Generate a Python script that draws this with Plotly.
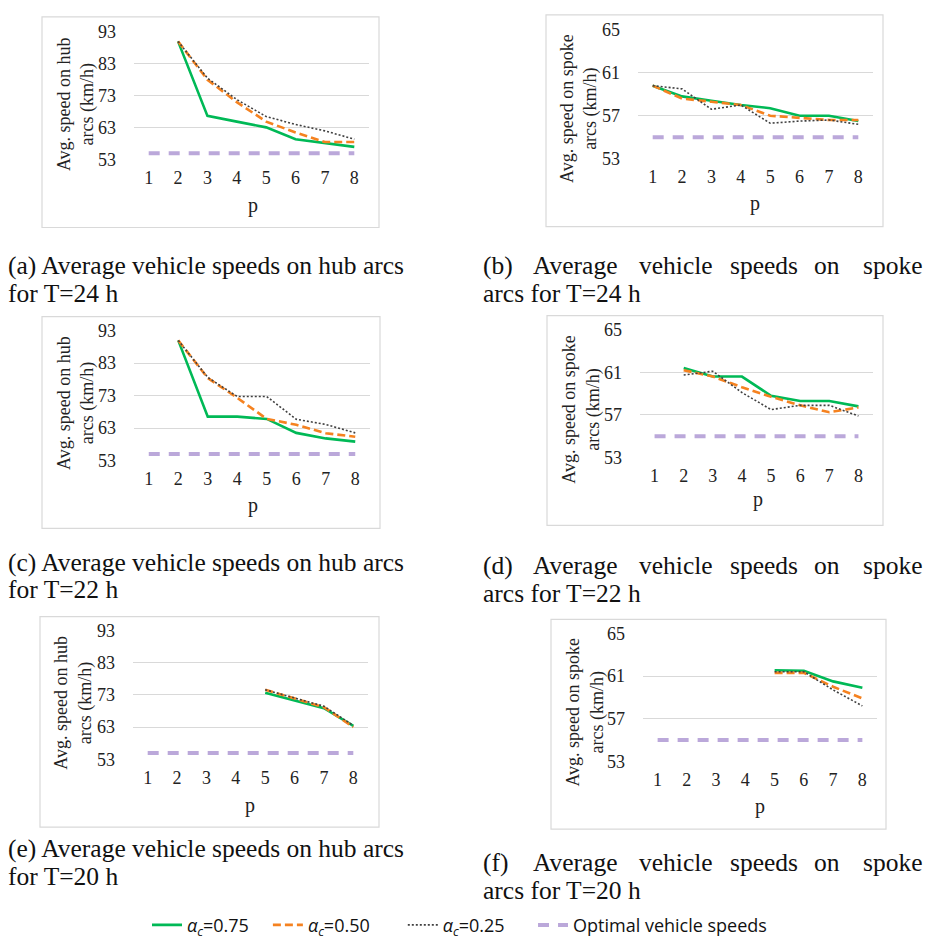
import plotly.graph_objects as go

# ---------------- data ----------------
p = [1, 2, 3, 4, 5, 6, 7, 8]
optimal_speed = [55, 55, 55, 55, 55, 55, 55, 55]

hub_24_a75 = [None, 90, 66.7, 64.9, 63.1, 59.4, 58.1, 57.0]
hub_24_a50 = [None, 90, 78.0, 71.0, 64.9, 61.5, 58.5, 58.5]
hub_24_a25 = [None, 90, 78.5, 71.8, 66.5, 64.0, 62.0, 59.4]

spoke_24_a75 = [59.8, 58.8, 58.4, 58.0, 57.7, 57.0, 57.0, 56.5]
spoke_24_a50 = [59.8, 58.6, 58.3, 58.0, 57.0, 56.8, 56.6, 56.6]
spoke_24_a25 = [59.8, 59.5, 57.6, 58.0, 56.3, 56.5, 56.6, 56.2]

hub_22_a75 = [None, 90, 66.5, 66.5, 65.8, 61.5, 59.8, 58.8]
hub_22_a50 = [None, 90, 78.4, 72.3, 65.8, 64.0, 61.4, 60.3]
hub_22_a25 = [None, 90, 78.6, 72.7, 72.7, 65.7, 64.1, 61.5]

spoke_22_a75 = [None, 61.4, 60.6, 60.6, 58.8, 58.3, 58.3, 57.8]
spoke_22_a50 = [None, 61.2, 60.6, 59.6, 58.7, 57.9, 57.25, 57.7]
spoke_22_a25 = [None, 60.75, 61.1, 59.1, 57.5, 57.9, 57.9, 56.9]

hub_20_a75 = [None, None, None, None, 73.7, 71.3, 68.9, 63.4]
hub_20_a50 = [None, None, None, None, 74.6, 72.0, 69.2, 63.0]
hub_20_a25 = [None, None, None, None, 74.6, 72.1, 69.5, 63.5]

spoke_20_a75 = [None, None, None, None, 61.55, 61.5, 60.5, 59.9]
spoke_20_a50 = [None, None, None, None, 61.3, 61.3, 60.0, 58.9]
spoke_20_a25 = [None, None, None, None, 61.4, 61.4, 59.7, 58.2]

hub_ticks = [53, 63, 73, 83, 93]
spoke_ticks = [53, 57, 61, 65]

series_names = ["<i>α<sub>c</sub></i>=0.75" + "\u00a0" * 3,
                "<i>α<sub>c</sub></i>=0.50" + "\u00a0" * 6,
                "<i>α<sub>c</sub></i>=0.25" + "\u00a0" * 5,
                "Optimal vehicle speeds"]

panel_data = [
    (hub_24_a75, hub_24_a50, hub_24_a25, hub_ticks, "Avg. speed on hub<br>arcs (km/h)"),
    (spoke_24_a75, spoke_24_a50, spoke_24_a25, spoke_ticks, "Avg. speed on spoke<br>arcs (km/h)"),
    (hub_22_a75, hub_22_a50, hub_22_a25, hub_ticks, "Avg. speed on hub<br>arcs (km/h)"),
    (spoke_22_a75, spoke_22_a50, spoke_22_a25, spoke_ticks, "Avg. speed on spoke<br>arcs (km/h)"),
    (hub_20_a75, hub_20_a50, hub_20_a25, hub_ticks, "Avg. speed on hub<br>arcs (km/h)"),
    (spoke_20_a75, spoke_20_a50, spoke_20_a25, spoke_ticks, "Avg. speed on spoke<br>arcs (km/h)"),
]

# ---------------- layout geometry (pixels) ----------------
W, H = 925, 945
def px(x): return x / W
def py(y): return 1 - y / H

geo = [
    dict(plot=(134, 369, 23, 154), box=(42, 379, 8, 223), yt=(76, 97), pl=(253, 201)),
    dict(plot=(638, 873, 21, 153), box=(546, 883, 6, 222), yt=(579, 102), pl=(755, 198)),
    dict(plot=(134, 370, 328, 461), box=(42, 380, 314, 530), yt=(76, 402), pl=(253, 507)),
    dict(plot=(640, 873, 327, 458), box=(547, 883, 313, 527), yt=(581, 409), pl=(758, 501)),
    dict(plot=(133, 368, 634, 766), box=(40, 379, 620, 835), yt=(73, 708), pl=(250, 813)),
    dict(plot=(643, 877, 637, 768), box=(551, 886, 623, 837), yt=(585, 718), pl=(760, 814)),
]

styles = [
    dict(color="#00B956", width=2.6, dash="solid"),
    dict(color="#F58220", width=2.6, dash="8px,4px"),
    dict(color="#404040", width=1.6, dash="2px,2px"),
    dict(color="#BBA8DA", width=4, dash="11px,9px"),
]

SERIF = "Liberation Serif"
TXT = "#222222"
fig = go.Figure()
shapes = []
annotations = []
axes = {}

for i, (d75, d50, d25, ticks, ytitle) in enumerate(panel_data):
    g = geo[i]
    n = "" if i == 0 else str(i + 1)
    xa, ya = "x" + n, "y" + n
    for j, ys in enumerate([d75, d50, d25, optimal_speed]):
        fig.add_trace(go.Scatter(
            x=p, y=ys, mode="lines", name=series_names[j], legendgroup=str(j),
            showlegend=(i == 0), line=styles[j], xaxis=xa, yaxis=ya,
            connectgaps=False, hoverinfo="skip"))
    x0, x1, y0, y1 = g["plot"]
    lo, hi = ticks[0], ticks[-1]
    pad = (hi - lo) * 0.002
    axes["xaxis" + n] = dict(
        domain=[px(x0), px(x1)], anchor=ya, range=[0.5, 8.5],
        tickmode="array", tickvals=p, ticktext=[str(v) for v in p], showgrid=False,
        zeroline=False, showline=False, ticks="", ticklabelstandoff=5,
        tickfont=dict(family=SERIF, size=18, color=TXT), fixedrange=True)
    axes["yaxis" + n] = dict(
        domain=[py(y1), py(y0)], anchor=xa, range=[lo - pad, hi + pad],
        tickmode="array", tickvals=ticks, ticktext=[str(t) for t in ticks],
        showgrid=True, gridcolor="#D9D9D9", gridwidth=1,
        zeroline=False, showline=False, ticks="", ticklabelstandoff=17,
        tickfont=dict(family=SERIF, size=18, color=TXT), fixedrange=True)
    bx0, bx1, by0, by1 = g["box"]
    shapes.append(dict(type="rect", xref="paper", yref="paper",
                       x0=px(bx0), x1=px(bx1), y0=py(by1), y1=py(by0),
                       line=dict(color="#D9D9D9", width=1.2), layer="below"))
    annotations.append(dict(xref="paper", yref="paper", x=px(g["yt"][0]), y=py(g["yt"][1]),
                            text=ytitle, textangle=-90, showarrow=False,
                            xanchor="center", yanchor="middle",
                            font=dict(family=SERIF, size=18, color=TXT)))
    annotations.append(dict(xref="paper", yref="paper", x=px(g["pl"][0]), y=py(g["pl"][1]),
                            text="p", showarrow=False, xanchor="center", yanchor="middle",
                            font=dict(family=SERIF, size=20, color=TXT)))

# ---------------- captions ----------------
CAP = 25.5
SHIFT = 0.3375 * CAP  # baseline -> box centre


def cap(x, base, text, anchor):
    annotations.append(dict(xref="paper", yref="paper", x=px(x), y=py(base - SHIFT),
                            text=text, showarrow=False, xanchor=anchor, yanchor="middle",
                            borderpad=0,
                            font=dict(family=SERIF, size=CAP, color="#111111")))


left_caps = [
    ("(a) Average vehicle speeds on hub arcs", "for T=24 h", 270, 298.5),
    ("(c) Average vehicle speeds on hub arcs", "for T=22 h", 573, 601.5),
    ("(e) Average vehicle speeds on hub arcs", "for T=20 h", 865, 893.5),
]
for l1, l2, b1, b2 in left_caps:
    cap(7, b1, l1, "left")
    cap(7, b2, l2, "left")

right_caps = [("(b)", "arcs for T=24 h", 270, 298.5),
              ("(d)", "arcs for T=22 h", 577, 605.5),
              ("(f)", "arcs for T=20 h", 880, 908.5)]
words = ["Average", "vehicle", "speeds", "on"]
word_centers = [575, 676, 764, 827]
for lab, l2, b1, b2 in right_caps:
    cap(482, b1, lab, "left")
    for w, cx in zip(words, word_centers):
        cap(cx, b1, w, "center")
    cap(924, b1, "spoke", "right")
    cap(482, b2, l2, "left")

fig.update_layout(
    width=W, height=H, margin=dict(l=0, r=0, t=0, b=0),
    paper_bgcolor="white", plot_bgcolor="white",
    font=dict(family=SERIF, size=18, color=TXT),
    shapes=shapes, annotations=annotations,
    showlegend=True,
    legend=dict(orientation="h", x=px(147), xanchor="left", y=py(935), yanchor="middle",
                font=dict(family="Open Sans", size=18, color="#111111"),
                bgcolor="rgba(0,0,0,0)", tracegroupgap=0),
    **axes,
)

fig.write_html(
    "out.html",
    config={"displayModeBar": False, "staticPlot": True},
    post_script="document.body.style.margin='0';document.body.style.padding='0';"
                "document.documentElement.style.overflow='hidden';"
                "document.body.style.overflow='hidden';",
)
